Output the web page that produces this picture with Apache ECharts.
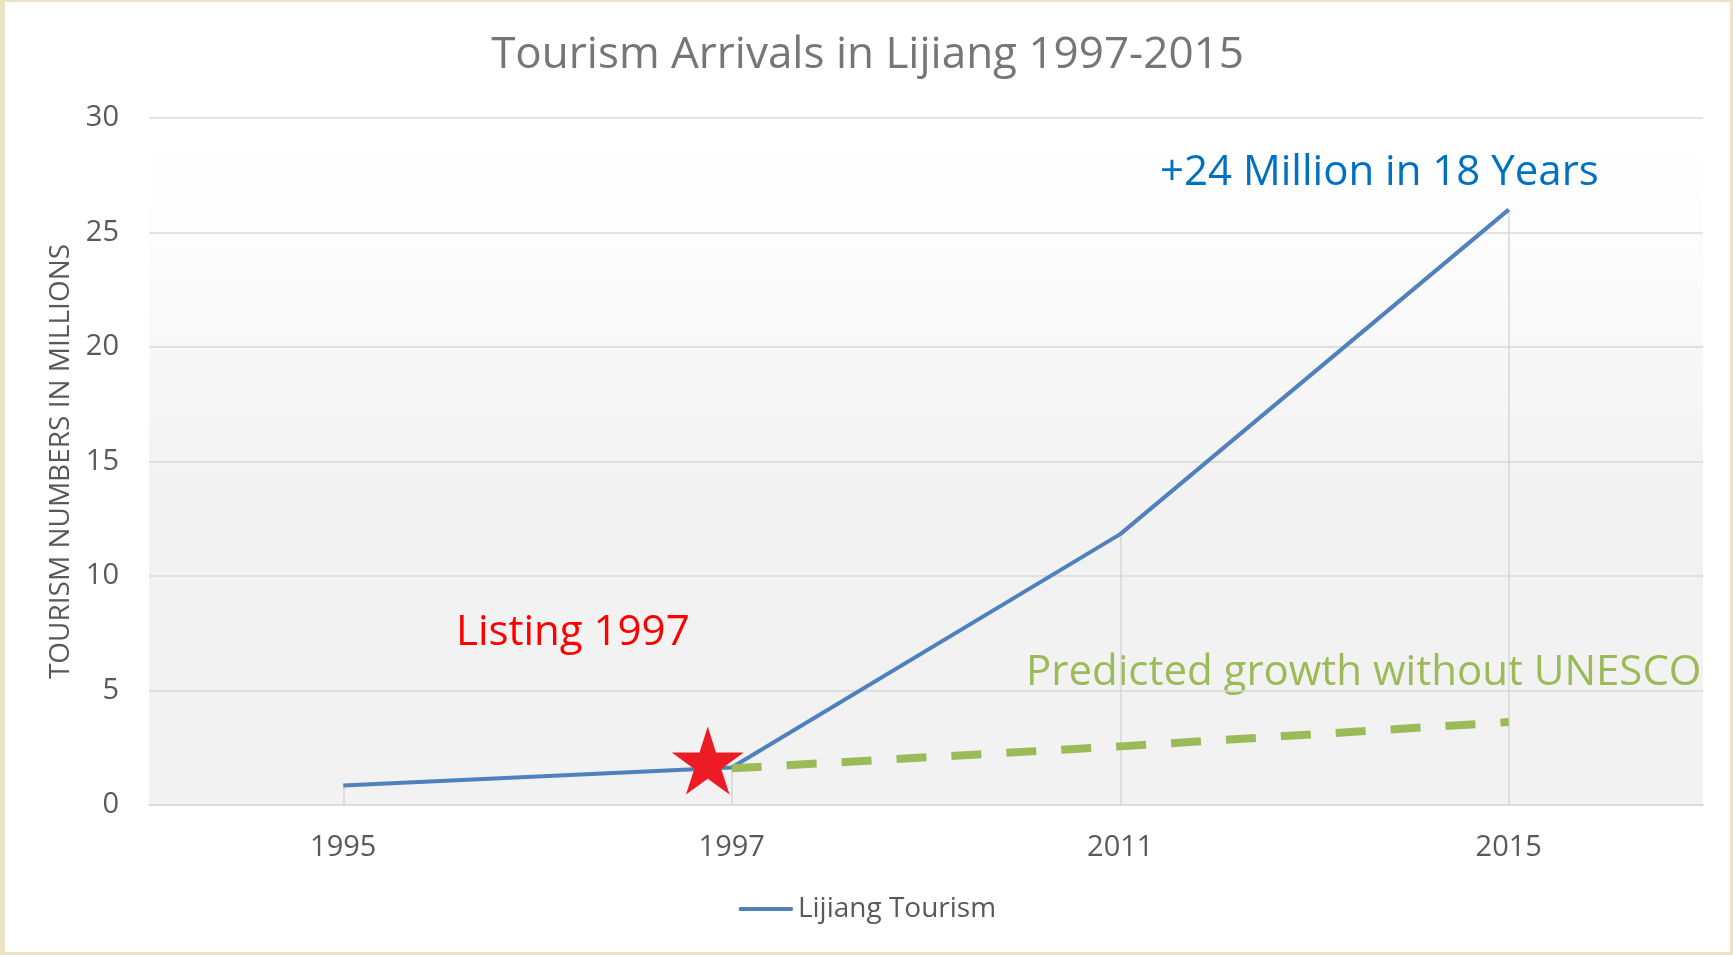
<!DOCTYPE html>
<html>
<head>
<meta charset="utf-8">
<script src="https://cdn.jsdelivr.net/npm/echarts@6/dist/echarts.min.js"></script>
<style>
  html, body { margin: 0; padding: 0; background: #ece3c6; }
  #chart { position: absolute; left: 5px; top: 2px; width: 1725px; height: 950px; background: #ffffff; }
</style>
</head>
<body>
<div id="chart"></div>
<script>
// data
var years = ['1995', '1997', '2011', '2015'];
var tourism = [0.85, 1.64, 11.83, 26.0];
var predicted = [null, 1.6, 2.56, 3.62];
var yTicks = [0, 5, 10, 15, 20, 25, 30];

var FONT = '"Open Sans", sans-serif';
var chart = echarts.init(document.getElementById('chart'));

// drop lines from each point of the blue series down to the axis
var dropLines = years.map(function (y, i) {
  return [{ coord: [y, tourism[i]] }, { coord: [y, 0] }];
});

var starPath = 'path://M50,0 L61,35 L98,35 L68,57 L79,91 L50,70 L21,91 L32,57 L2,35 L39,35 Z';

var option = {
  textStyle: { fontFamily: FONT },
  title: {
    text: 'Tourism Arrivals in Lijiang 1997-2015',
    left: 'center',
    top: 26,
    textStyle: { fontFamily: FONT, fontSize: 44, fontWeight: 'normal', color: '#767676' }
  },
  legend: {
    data: ['Lijiang Tourism'],
    bottom: 24,
    left: 'center',
    itemWidth: 54,
    itemHeight: 4,
    icon: 'roundRect',
    textStyle: { fontFamily: FONT, fontSize: 28, color: '#595959', padding: [0, 0, 0, 0] }
  },
  grid: {
    left: 144,
    right: 27,
    top: 116,
    bottom: 147,
    show: true,
    borderWidth: 0,
    backgroundColor: new echarts.graphic.LinearGradient(0, 0, 0, 1, [
      { offset: 0, color: '#ffffff' },
      { offset: 0.15, color: '#fdfdfd' },
      { offset: 0.55, color: '#f2f2f2' },
      { offset: 1, color: '#f2f2f2' }
    ])
  },
  xAxis: {
    type: 'category',
    data: years,
    boundaryGap: true,
    axisTick: { show: false },
    axisLine: { lineStyle: { color: '#d9d9d9', width: 1.5 } },
    axisLabel: { fontFamily: FONT, fontSize: 29, color: '#595959', margin: 28 }
  },
  yAxis: {
    type: 'value',
    min: yTicks[0],
    max: yTicks[yTicks.length - 1],
    interval: 5,
    name: 'TOURISM NUMBERS IN MILLIONS',
    nameLocation: 'middle',
    nameGap: 72,
    nameTextStyle: { fontFamily: FONT, fontSize: 28, color: '#595959' },
    axisLine: { show: false },
    axisTick: { show: false },
    axisLabel: { fontFamily: FONT, fontSize: 29, color: '#595959', margin: 30 },
    splitLine: { lineStyle: { color: '#d9d9d9', width: 1.5 } }
  },
  series: [
    {
      name: 'Lijiang Tourism',
      type: 'line',
      data: tourism,
      showSymbol: false,
      lineStyle: { color: '#4f81bd', width: 4 },
      itemStyle: { color: '#4f81bd' },
      z: 3,
      markLine: {
        silent: true,
        symbol: 'none',
        label: { show: false },
        lineStyle: { color: '#d6d6d6', width: 1.5, type: 'solid' },
        data: dropLines,
        z: 1
      },
      markPoint: {
        silent: true,
        symbol: starPath,
        symbolSize: [72, 68],
        symbolOffset: [-24, -7],
        itemStyle: { color: '#ed1c24' },
        label: { show: false },
        data: [{ coord: [years[1], tourism[1]] }],
        z: 5
      }
    },
    {
      name: 'Predicted',
      type: 'line',
      data: predicted,
      showSymbol: false,
      lineStyle: { color: '#9bbb59', width: 8, type: [30, 25] },
      itemStyle: { color: '#9bbb59' },
      z: 4
    }
  ],
  graphic: [
    {
      type: 'text', left: 1155, top: 150,
      style: { text: '+24 Million in 18 Years', fontFamily: FONT, fontSize: 42, fill: '#0070c0' }
    },
    {
      type: 'text', left: 451, top: 610,
      style: { text: 'Listing 1997', fontFamily: FONT, fontSize: 42, fill: '#ff0000' }
    },
    {
      type: 'text', left: 1021, top: 650,
      style: { text: 'Predicted growth without UNESCO', fontFamily: FONT, fontSize: 42, fill: '#9bbb59' }
    }
  ]
};

chart.setOption(option);
</script>
</body>
</html>
